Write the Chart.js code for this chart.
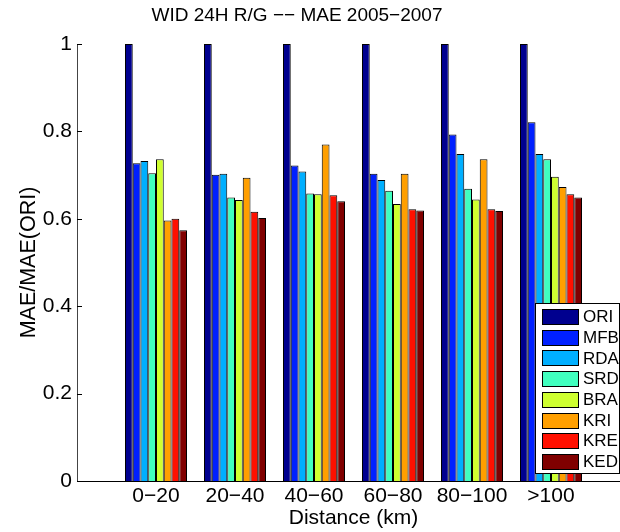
<!DOCTYPE html>
<html>
<head>
<meta charset="utf-8">
<script src="https://cdn.jsdelivr.net/npm/chart.js@4"></script>
<style>
  html, body { margin: 0; padding: 0; background: #fff; overflow: hidden; }
  #wrap { width: 640px; height: 532px; }
</style>
</head>
<body>
<div id="wrap"><canvas id="chart" width="640" height="532"></canvas></div>
<script>
// categories and series (MAE relative to ORI)
const categories = ['0−20', '20−40', '40−60', '60−80', '80−100', '>100'];
const seriesNames = ['ORI', 'MFB', 'RDA', 'SRD', 'BRA', 'KRI', 'KRE', 'KED'];
const seriesColors = ['#00008F', '#0020FF', '#00AFFF', '#40FFBF', '#CFFF30', '#FF9F00', '#FF1000', '#800000'];

const ORI = [1, 1, 1, 1, 1, 1];
const MFB = [0.727, 0.701, 0.722, 0.703, 0.793, 0.821];
const RDA = [0.732, 0.703, 0.708, 0.689, 0.748, 0.748];
const SRD = [0.704, 0.649, 0.658, 0.664, 0.669, 0.736];
const BRA = [0.736, 0.643, 0.656, 0.634, 0.644, 0.696];
const KRI = [0.596, 0.694, 0.770, 0.703, 0.736, 0.673];
const KRE = [0.600, 0.616, 0.654, 0.622, 0.622, 0.656];
const KED = [0.574, 0.602, 0.640, 0.619, 0.618, 0.649];

const yTicks = [0, 0.2, 0.4, 0.6, 0.8, 1];

const TITLE = 'WID 24H R/G −− MAE 2005−2007';
const FONT = '"Liberation Sans", Arial, Helvetica, sans-serif';
const seriesValues = [ORI, MFB, RDA, SRD, BRA, KRI, KRE, KED];

// empty slot at each end, like xlim [0 7]
const labels = [''].concat(categories, ['']);

const datasets = seriesNames.map((name, i) => ({
  label: name,
  data: [null].concat(seriesValues[i], [null]),
  backgroundColor: seriesColors[i],
  borderColor: '#000',
  borderWidth: 1,
  categoryPercentage: 0.785,
  barPercentage: 1.0
}));

// title centred like the original figure
const figTitle = {
  id: 'figTitle',
  afterDraw(chart) {
    const ctx = chart.ctx;
    ctx.save();
    ctx.font = '19px ' + FONT;
    ctx.fillStyle = '#000';
    ctx.textAlign = 'center';
    ctx.textBaseline = 'middle';
    ctx.fillText(TITLE, 297, 16);
    ctx.restore();
  }
};

// inward ticks on the y axis
const tickMarks = {
  id: 'tickMarks',
  afterDraw(chart) {
    const ctx = chart.ctx;
    const y = chart.scales.y;
    ctx.save();
    ctx.strokeStyle = '#000';
    ctx.lineWidth = 1;
    yTicks.forEach(v => {
      const py = Math.round(y.getPixelForValue(v)) + 0.5;
      ctx.beginPath();
      ctx.moveTo(y.right, py);
      ctx.lineTo(y.right + 5, py);
      ctx.stroke();
    });
    ctx.restore();
  }
};

// boxed legend sitting on top of the last group
const boxLegend = {
  id: 'boxLegend',
  afterDraw(chart) {
    const ctx = chart.ctx;
    const left = 535.5, top = 303.5, right = 619.5, bottom = 473.5;
    ctx.save();
    ctx.fillStyle = '#fff';
    ctx.fillRect(left, top, right - left, bottom - top);
    ctx.strokeStyle = '#000';
    ctx.lineWidth = 1;
    ctx.strokeRect(left, top, right - left, bottom - top);
    ctx.font = '17px ' + FONT;
    ctx.textBaseline = 'middle';
    chart.data.datasets.forEach((ds, i) => {
      const cy = 316.5 + i * 20.7;
      ctx.fillStyle = ds.backgroundColor;
      ctx.fillRect(542.5, Math.round(cy - 7.5) + 0.5, 36, 15);
      ctx.strokeRect(542.5, Math.round(cy - 7.5) + 0.5, 36, 15);
      ctx.fillStyle = '#000';
      ctx.fillText(ds.label, 583, cy + 1);
    });
    ctx.restore();
  }
};

new Chart(document.getElementById('chart'), {
  type: 'bar',
  data: { labels: labels, datasets: datasets },
  options: {
    responsive: false,
    animation: false,
    devicePixelRatio: 1,
    layout: { padding: { left: 0, right: 10, top: 44, bottom: 0 } },
    plugins: {
      legend: { display: false },
      tooltip: { enabled: false },
      title: { display: false }
    },
    scales: {
      x: {
        type: 'category',
        offset: false,
        grid: { display: false, drawTicks: false },
        border: { display: true, color: '#000', width: 1 },
        ticks: { autoSkip: false, maxRotation: 0, color: '#000', padding: 3,
                 font: { family: FONT, size: 21 } },
        title: { display: true, text: 'Distance (km)', color: '#000',
                 font: { family: FONT, size: 21 }, padding: { top: 0, bottom: 1 } },
        afterFit(s) { s.height = 51; }
      },
      y: {
        min: 0,
        max: 1,
        afterBuildTicks(s) { s.ticks = yTicks.map(v => ({ value: v })); },
        grid: { display: false, drawTicks: false },
        border: { display: true, color: '#444', width: 1 },
        ticks: { color: '#000', padding: 5, font: { family: FONT, size: 21 },
                 callback: v => String(v) },
        title: { display: true, text: 'MAE/MAE(ORI)', color: '#000',
                 font: { family: FONT, size: 21.5 }, padding: { top: 16, bottom: 0 } },
        afterFit(s) { s.width = 77; }
      }
    }
  },
  plugins: [figTitle, tickMarks, boxLegend]
});
</script>
</body>
</html>
